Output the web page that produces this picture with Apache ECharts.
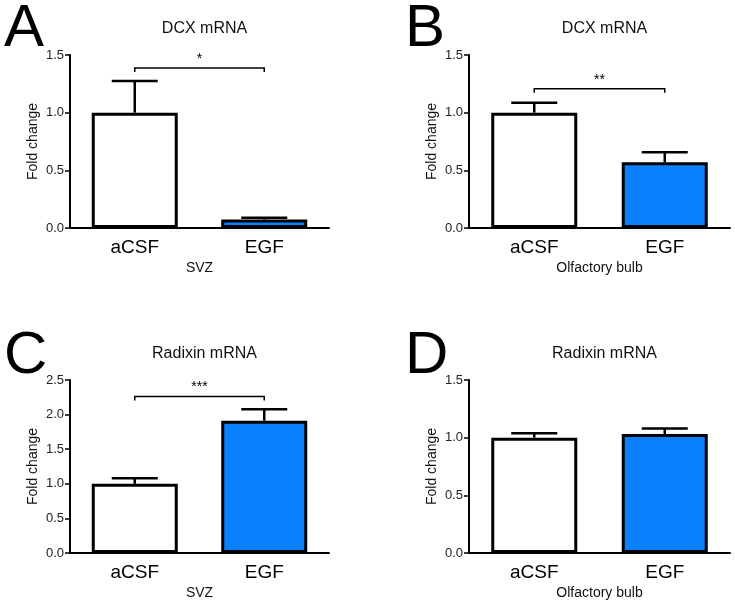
<!DOCTYPE html>
<html>
<head>
<meta charset="utf-8">
<script src="https://cdn.jsdelivr.net/npm/echarts@6/dist/echarts.min.js"></script>
<style>html,body{margin:0;padding:0;background:#fff}#c{width:735px;height:604px}</style>
</head>
<body>
<div id="c"></div>
<script>
// ---- data ----
const categories = ['aCSF', 'EGF'];
const panelLetters = ['A', 'B', 'C', 'D'];
const panelTitles = ['DCX mRNA', 'DCX mRNA', 'Radixin mRNA', 'Radixin mRNA'];
const regionNames = ['SVZ', 'Olfactory bulb', 'SVZ', 'Olfactory bulb'];
const meanA = [1.0, 0.073];
const semA = [0.275, 0.015];
const meanB = [1.0, 0.57];
const semB = [0.085, 0.086];
const meanC = [1.0, 1.912];
const semC = [0.08, 0.165];
const meanD = [1.0, 1.032];
const semD = [0.038, 0.048];
const yMax = [1.5, 1.5, 2.5, 1.5];
const bracketY = [1.387, 1.208, 2.26, null];
const bracketLabel = ['*', '**', '***', null];

const means = [meanA, meanB, meanC, meanD];
const sems = [semA, semB, semC, semD];

const FONT = 'Liberation Sans, Arial, sans-serif';
const BLUE = '#0a80ff';
const grids = [
  {left: 70, top: 55, width: 259, height: 173},
  {left: 469, top: 55, width: 261, height: 173},
  {left: 70, top: 380, width: 259, height: 173},
  {left: 469, top: 380, width: 261, height: 173}
];

const chart = echarts.init(document.getElementById('c'), null, {renderer: 'canvas'});

const xAxes = [], yAxes = [], series = [], titles = [], graphics = [];
for (let i = 0; i < 4; i++) {
  const g = grids[i];
  xAxes.push({
    type: 'category', gridIndex: i, data: categories,
    name: regionNames[i], nameLocation: 'middle', nameGap: 33,
    nameTextStyle: {fontFamily: FONT, fontSize: 14, color: '#111'},
    axisLine: {lineStyle: {color: '#000', width: 2}},
    axisTick: {alignWithLabel: true, length: 4, lineStyle: {color: '#000', width: 1.5}},
    axisLabel: {fontFamily: FONT, fontSize: 19, color: '#000', margin: 10}
  });
  yAxes.push({
    type: 'value', gridIndex: i, min: 0, max: yMax[i], interval: 0.5,
    name: 'Fold change', nameLocation: 'middle', nameGap: 30, nameRotate: 90,
    nameTextStyle: {fontFamily: FONT, fontSize: 14, color: '#111'},
    splitLine: {show: false},
    axisLine: {show: true, lineStyle: {color: '#000', width: 2}},
    axisTick: {show: true, length: 5, lineStyle: {color: '#000', width: 1.5}},
    axisLabel: {fontFamily: FONT, fontSize: 13, color: '#222', margin: 6,
      formatter: v => v.toFixed(1)}
  });
  series.push({
    type: 'bar', xAxisIndex: i, yAxisIndex: i, barWidth: 86,
    data: means[i].map((v, k) => ({value: v, itemStyle: {color: k === 0 ? '#fff' : BLUE}})),
    itemStyle: {borderColor: '#000', borderWidth: 3},
    emphasis: {disabled: true}, z: 2
  });
  const m = means[i], s = sems[i];
  series.push({
    type: 'custom', xAxisIndex: i, yAxisIndex: i, z: 3,
    data: m.map((v, k) => [k, v, v + s[k]]),
    renderItem: (params, api) => {
      const p0 = api.coord([api.value(0), api.value(1)]);
      const p1 = api.coord([api.value(0), api.value(2)]);
      const hw = 23;
      return {type: 'group', children: [
        {type: 'line', shape: {x1: p0[0], y1: p0[1], x2: p1[0], y2: p1[1]}, style: {stroke: '#000', lineWidth: 2.5}},
        {type: 'line', shape: {x1: p1[0] - hw, y1: p1[1], x2: p1[0] + hw, y2: p1[1]}, style: {stroke: '#000', lineWidth: 2.5}}
      ]};
    }
  });
  if (bracketY[i] !== null) {
    series.push({
      type: 'custom', xAxisIndex: i, yAxisIndex: i, z: 3,
      data: [[0, 1, bracketY[i]]],
      renderItem: (params, api) => {
        const a = api.coord([api.value(0), api.value(2)]);
        const b = api.coord([api.value(1), api.value(2)]);
        return {type: 'group', children: [
          {type: 'polyline', shape: {points: [[a[0], a[1] + 4], [a[0], a[1]], [b[0], b[1]], [b[0], b[1] + 4]]},
            style: {stroke: '#000', lineWidth: 1.5, fill: null}},
          {type: 'text', x: (a[0] + b[0]) / 2, y: a[1] - 2,
            style: {text: bracketLabel[i], font: '14px ' + FONT, fill: '#000', align: 'center', verticalAlign: 'bottom'}}
        ]};
      }
    });
  }
  titles.push({
    text: panelTitles[i], left: g.left + g.width / 2, top: g.top - 39, textAlign: 'center',
    textStyle: {fontFamily: FONT, fontSize: 16, fontWeight: 'normal', color: '#111'}
  });
  graphics.push({
    type: 'text', x: (i % 2 === 0 ? 4 : 405), y: g.top - 26 + (i >= 2 ? 2 : 0),
    style: {text: panelLetters[i], font: '60px ' + FONT, fill: '#000', align: 'left', verticalAlign: 'middle'}
  });
}

chart.setOption({
  animation: false,
  title: titles,
  grid: grids.map(g => Object.assign({containLabel: false}, g)),
  xAxis: xAxes,
  yAxis: yAxes,
  series: series,
  graphic: graphics
});
</script>
</body>
</html>
